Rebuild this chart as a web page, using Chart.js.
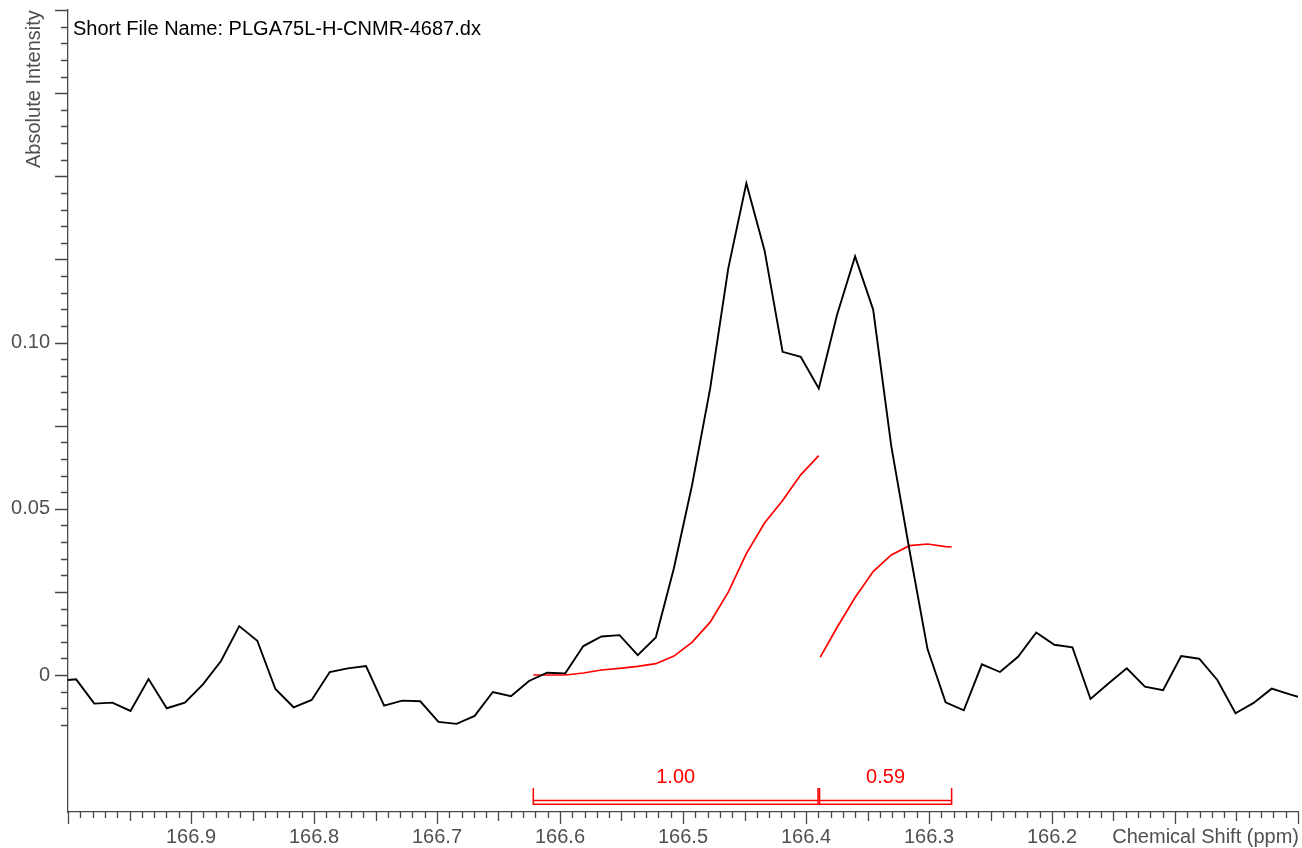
<!DOCTYPE html>
<html>
<head>
<meta charset="utf-8">
<script src="https://cdn.jsdelivr.net/npm/chart.js@4.4.1/dist/chart.umd.min.js"></script>
<style>
  html, body { margin: 0; padding: 0; background: #ffffff; }
  canvas { display: block; }
</style>
</head>
<body>
<canvas id="spectrum" width="1302" height="848"></canvas>
<script>
// ---- 13C NMR carbonyl region, PLGA 75:25 ----
const fileTitle = 'Short File Name: PLGA75L-H-CNMR-4687.dx';
const xAxisTitle = 'Chemical Shift (ppm)';
const yAxisTitle = 'Absolute Intensity';

// spectrum points (ppm, absolute intensity)
const shiftPpm = [
  167.0081, 166.9934, 166.9786, 166.9639, 166.9492, 166.9345, 166.9197, 166.9050, 166.8903, 166.8756,
  166.8608, 166.8461, 166.8314, 166.8166, 166.8019, 166.7872, 166.7725, 166.7577, 166.7430, 166.7283,
  166.7136, 166.6988, 166.6841, 166.6694, 166.6546, 166.6399, 166.6252, 166.6105, 166.5957, 166.5810,
  166.5663, 166.5516, 166.5368, 166.5221, 166.5074, 166.4927, 166.4779, 166.4632, 166.4485, 166.4337,
  166.4190, 166.4043, 166.3896, 166.3748, 166.3601, 166.3454, 166.3307, 166.3159, 166.3012, 166.2865,
  166.2717, 166.2570, 166.2423, 166.2276, 166.2128, 166.1981, 166.1834, 166.1687, 166.1539, 166.1392,
  166.1245, 166.1097, 166.0950, 166.0803, 166.0656, 166.0508, 166.0361, 166.0214, 166.0067, 165.9919
];
const intensity = [
  -0.0017, -0.0013, -0.0086, -0.0083, -0.0108, -0.0012, -0.0100, -0.0083, -0.0028, 0.0042,
   0.0147,  0.0103, -0.0042, -0.0097, -0.0075,  0.0009,  0.0020,  0.0027, -0.0092, -0.0077,
  -0.0079, -0.0141, -0.0147, -0.0123, -0.0051, -0.0064, -0.0018,  0.0007,  0.0005,  0.0087,
   0.0116,  0.0120,  0.0060,  0.0113,  0.0321,  0.0570,  0.0862,  0.1223,  0.1479,  0.1277,
   0.0972,  0.0957,  0.0862,  0.1083,  0.1259,  0.1099,  0.0689,  0.0376,  0.0078, -0.0082,
  -0.0106,  0.0032,  0.0009,  0.0055,  0.0128,  0.0091,  0.0083, -0.0072, -0.0025,  0.0020,
  -0.0035, -0.0046,  0.0057,  0.0049, -0.0015, -0.0115, -0.0084, -0.0041, -0.0058, -0.0075
];

// integral traces
const integral1Ppm = [
  166.6217, 166.6105, 166.5957, 166.5810, 166.5663, 166.5516, 166.5368, 166.5221, 166.5074,
  166.4927, 166.4779, 166.4632, 166.4485, 166.4337, 166.4190, 166.4043, 166.3896
];
const integral1Values = [
  0.0000, 0.0000, 0.0000, 0.0006, 0.0015, 0.0020, 0.0026, 0.0034, 0.0057,
  0.0098, 0.0159, 0.0249, 0.0365, 0.0457, 0.0525, 0.0602, 0.0660
];
const integral2Ppm = [166.3884, 166.3748, 166.3601, 166.3454, 166.3307, 166.3159, 166.3012, 166.2865, 166.2816];
const integral2Values = [0.0054, 0.0143, 0.0233, 0.0311, 0.0361, 0.0389, 0.0394, 0.0386, 0.0385];

// integration regions (from, to) and their relative areas
const integralFrom = [166.6217, 166.3890];
const integralTo = [166.3902, 166.2816];
const integralArea = [1.00, 0.59];

// labelled ticks
const xLabelValues = [166.9, 166.8, 166.7, 166.6, 166.5, 166.4, 166.3, 166.2];
const yLabelValues = [0, 0.05, 0.10];

const FONT = '"Liberation Sans", Arial, sans-serif';
const AXIS_COLOR = '#474747';
const LABEL_COLOR = '#505050';
const INTEGRAL_COLOR = '#ff0000';

const toPoints = (xs, ys) => xs.map((v, i) => ({ x: v, y: ys[i] }));

const decorations = {
  id: 'spectrumDecorations',
  afterDraw(chart) {
    const { ctx, chartArea: area, scales } = chart;
    const xs = scales.x, ys = scales.y;
    ctx.save();

    // tick marks: 0.01 ppm minor, 0.05 medium, 0.1 major
    ctx.strokeStyle = AXIS_COLOR;
    ctx.lineWidth = 1.3;
    ctx.beginPath();
    xs.ticks.forEach(t => {
      const k = Math.round(t.value * 100);
      const len = k % 10 === 0 ? 12 : (k % 5 === 0 ? 9 : 6);
      const p = Math.round(xs.getPixelForValue(t.value)) + 0.5;
      ctx.moveTo(p, area.bottom);
      ctx.lineTo(p, area.bottom + len);
    });
    ys.ticks.forEach(t => {
      const k = Math.round(t.value * 1000);
      const len = k % 25 === 0 ? 13 : 7;
      const p = Math.round(ys.getPixelForValue(t.value)) + 0.5;
      ctx.moveTo(area.left, p);
      ctx.lineTo(area.left - len, p);
    });
    ctx.stroke();

    // integration brackets
    ctx.strokeStyle = INTEGRAL_COLOR;
    ctx.fillStyle = INTEGRAL_COLOR;
    ctx.lineWidth = 1.5;
    ctx.font = '20px ' + FONT;
    ctx.textAlign = 'center';
    ctx.textBaseline = 'alphabetic';
    integralFrom.forEach((from, i) => {
      const x1 = xs.getPixelForValue(from);
      const x2 = xs.getPixelForValue(integralTo[i]);
      const b = area.bottom;
      ctx.beginPath();
      ctx.rect(x1, b - 11.5, x2 - x1, 3.8);
      ctx.moveTo(x1, b - 24); ctx.lineTo(x1, b - 7.5);
      ctx.moveTo(x2, b - 24); ctx.lineTo(x2, b - 7.5);
      ctx.stroke();
      ctx.fillText(integralArea[i].toFixed(2), (x1 + x2) / 2, b - 29);
    });

    // titles
    ctx.font = '20px ' + FONT;
    ctx.fillStyle = '#000000';
    ctx.textAlign = 'left';
    ctx.fillText(fileTitle, area.left + 5, 35);

    ctx.fillStyle = LABEL_COLOR;
    ctx.textAlign = 'right';
    ctx.fillText(xAxisTitle, area.right + 1, 843);

    ctx.translate(39.5, 168);
    ctx.rotate(-Math.PI / 2);
    ctx.textAlign = 'left';
    ctx.fillText(yAxisTitle, 0, 0);
    ctx.restore();
  }
};

const noEdgePadding = scale => {
  scale.paddingTop = 0;
  scale.paddingBottom = 0;
  scale.paddingLeft = 0;
  scale.paddingRight = 0;
};

new Chart(document.getElementById('spectrum'), {
  type: 'line',
  data: {
    datasets: [
      {
        data: toPoints(shiftPpm, intensity),
        borderColor: '#000000',
        borderWidth: 1.9,
        pointRadius: 0,
        tension: 0,
        fill: false
      },
      {
        data: toPoints(integral1Ppm, integral1Values),
        borderColor: INTEGRAL_COLOR,
        borderWidth: 1.7,
        pointRadius: 0,
        tension: 0,
        fill: false
      },
      {
        data: toPoints(integral2Ppm, integral2Values),
        borderColor: INTEGRAL_COLOR,
        borderWidth: 1.7,
        pointRadius: 0,
        tension: 0,
        fill: false
      }
    ]
  },
  options: {
    responsive: false,
    animation: false,
    devicePixelRatio: 1,
    layout: { padding: { top: 10, right: 4, left: 0, bottom: 0 } },
    plugins: { legend: { display: false }, tooltip: { enabled: false } },
    scales: {
      x: {
        type: 'linear',
        reverse: true,
        min: 166.0,
        max: 167.0,
        afterBuildTicks(scale) {
          const t = [];
          for (let k = 16600; k <= 16700; k++) t.push({ value: k / 100 });
          scale.ticks = t;
        },
        afterFit(scale) { scale.height = 36; noEdgePadding(scale); },
        grid: { display: false, drawTicks: false },
        border: { display: true, color: AXIS_COLOR, width: 1.3 },
        ticks: {
          autoSkip: false,
          maxRotation: 0,
          padding: 13,
          color: LABEL_COLOR,
          font: { family: FONT, size: 20 },
          callback(value) {
            const hit = xLabelValues.some(v => Math.abs(v - value) < 1e-6);
            return hit ? value.toFixed(1) : '';
          }
        }
      },
      y: {
        type: 'linear',
        min: -0.0412,
        max: 0.2,
        afterBuildTicks(scale) {
          const t = [];
          for (let k = -15; k <= 200; k += 5) t.push({ value: k / 1000 });
          scale.ticks = t;
        },
        afterFit(scale) { scale.width = 68; noEdgePadding(scale); },
        grid: { display: false, drawTicks: false },
        border: { display: true, color: AXIS_COLOR, width: 1.3 },
        ticks: {
          autoSkip: false,
          padding: 18,
          color: LABEL_COLOR,
          font: { family: FONT, size: 20 },
          callback(value) {
            const hit = yLabelValues.find(v => Math.abs(v - value) < 1e-6);
            if (hit === undefined) return '';
            return hit === 0 ? '0' : hit.toFixed(2);
          }
        }
      }
    }
  },
  plugins: [decorations]
});
</script>
</body>
</html>
